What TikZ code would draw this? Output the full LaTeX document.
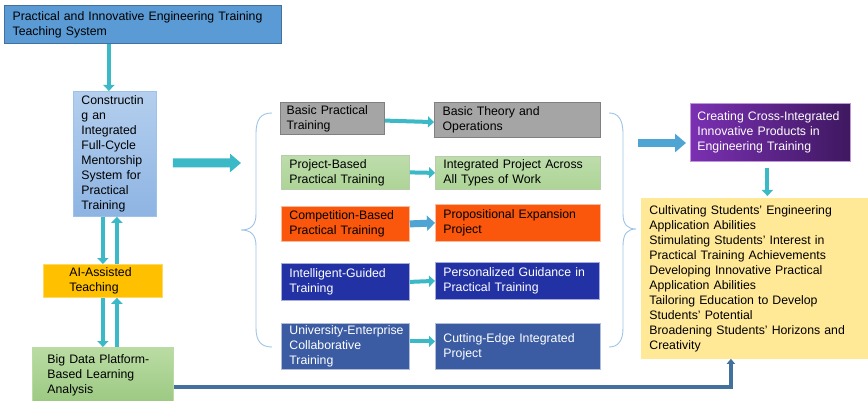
\documentclass[tikz,border=0pt]{standalone}
\usepackage{fontspec}
\setmainfont{Liberation Sans}
\usetikzlibrary{arrows.meta}

\definecolor{arrowteal}{HTML}{3CB9C6}
\definecolor{arrowblue}{HTML}{4EA4D2}
\definecolor{linkblue}{HTML}{41719C}
\definecolor{bracecol}{HTML}{9DC3E6}
\definecolor{sysblue}{HTML}{5B9BD5}
\definecolor{sysedge}{HTML}{41719C}
\definecolor{mentortop}{HTML}{B4CFEE}
\definecolor{mentorbot}{HTML}{8EB4E3}
\definecolor{aigold}{HTML}{FFC000}
\definecolor{datatop}{HTML}{BADCA4}
\definecolor{databot}{HTML}{9CC982}
\definecolor{basegray}{HTML}{A5A5A5}
\definecolor{projgreen}{HTML}{ADD496}
\definecolor{compred}{HTML}{FA560C}
\definecolor{guideblue}{HTML}{2231A3}
\definecolor{coopblue}{HTML}{3B5CA3}
\definecolor{purpleL}{HTML}{7B30B2}
\definecolor{purpleR}{HTML}{3E1860}
\definecolor{outyellow}{HTML}{FFE997}

% box text: no breaks at hyphens
\newcommand\boxfont{\fontsize{12.3}{15}\selectfont\hyphenpenalty=10000\relax\exhyphenpenalty=10000\relax}

\begin{document}
\begin{tikzpicture}[x=1pt,y=-1pt,
  blk/.style={draw, line width=0.8pt, anchor=north west, align=left,
    inner xsep=8pt, inner ysep=1pt, font=\boxfont},
  tarrow/.style={draw=arrowteal, line width=4pt, -{Triangle[length=6pt,width=11pt]}},
  bigarrow/.style={line width=9pt, -{Triangle[length=11pt,width=18pt]}},
  linkarrow/.style={draw=linkblue, line width=3.5pt, -{Triangle[length=5pt,width=8pt]}}]

\useasboundingbox (0,0) rectangle (868,401);

% left column
\node[blk, draw=sysedge, line width=1.2pt, fill=sysblue, text width=261pt, minimum height=38pt] (sys) at (4,5)
  {Practical and Innovative Engineering Training\\Teaching System};
\node[blk, draw=bracecol, top color=mentortop, bottom color=mentorbot, text width=67pt, minimum height=125pt] (mentor) at (73,91)
  {Constructin\\g an\\Integrated\\Full-Cycle\\Mentorship\\System for\\Practical\\Training};
\node[blk, draw=aigold!60, fill=aigold, inner xsep=26pt, text width=67pt, minimum height=33pt] (ai) at (43,264)
  {AI-Assisted\\Teaching};
\node[blk, draw=datatop, top color=datatop, bottom color=databot, inner xsep=15pt, text width=111pt, minimum height=55pt] (bigdata) at (32,347)
  {Big Data Platform-\\Based Learning\\Analysis};

% training forms
\node[blk, draw=gray, line width=1.2pt, fill=basegray, inner xsep=6pt, text width=92pt, minimum height=32pt] (basic) at (280,102)
  {Basic Practical\\Training};
\node[blk, draw=projgreen!80!black!60, top color=projgreen!80, bottom color=projgreen, text width=112pt, minimum height=34pt] (project) at (281,155)
  {Project-Based\\Practical Training};
\node[blk, draw=compred!40, fill=compred, text width=112pt, minimum height=35pt] (contest) at (281,206)
  {Competition-Based\\Practical Training};
\node[blk, draw=guideblue!40, fill=guideblue, text=white, text width=112pt, minimum height=37pt] (guided) at (281,263)
  {Intelligent-Guided\\Training};
\node[blk, draw=coopblue!40, fill=coopblue, text=white, text width=112pt, minimum height=46pt] (coop) at (281,323)
  {University-Enterprise\\Collaborative\\Training};

% training contents
\node[blk, draw=gray, line width=1.2pt, fill=basegray, text width=150pt, minimum height=35pt] (theory) at (434,102)
  {Basic Theory and\\Operations};
\node[blk, draw=projgreen!80!black!60, top color=projgreen!80, bottom color=projgreen, text width=149pt, minimum height=33pt] (allwork) at (435,156)
  {Integrated Project Across\\All Types of Work};
\node[blk, draw=compred!40, fill=compred, text width=149pt, minimum height=37pt] (expand) at (435,204)
  {Propositional Expansion\\Project};
\node[blk, draw=guideblue!40, fill=guideblue, text=white, text width=148pt, minimum height=37pt] (personal) at (435,262)
  {Personalized Guidance in\\Practical Training};
\node[blk, draw=coopblue!40, fill=coopblue, text=white, text width=149pt, minimum height=46pt] (frontier) at (435,323)
  {Cutting-Edge Integrated\\Project};

% right column
\node[blk, draw=purpleL!50, left color=purpleL, right color=purpleR, text=white, inner xsep=7pt, text width=146pt, minimum height=58pt] (product) at (690,103)
  {Creating Cross-Integrated\\Innovative Products in\\Engineering Training};
\node[blk, draw=outyellow, fill=outyellow, text width=211pt, minimum height=160pt] (goals) at (641,198)
  {Cultivating Students' Engineering\\Application Abilities\\Stimulating Students' Interest in\\Practical Training Achievements\\Developing Innovative Practical\\Application Abilities\\Tailoring Education to Develop\\Students' Potential\\Broadening Students' Horizons and\\Creativity};

% braces
\draw[bracecol, line width=0.9pt] (272,113) .. controls (261,113) and (256,119) .. (256,134) -- (256,214)
  .. controls (256,225) and (251,230) .. (241,230) .. controls (251,230) and (256,235) .. (256,246)
  -- (256,328) .. controls (256,341) and (261,347) .. (272,347);
\draw[bracecol, line width=0.9pt] (609,113) .. controls (618,113) and (623,119) .. (623,134) -- (623,214)
  .. controls (623,225) and (628,229) .. (636,229) .. controls (628,229) and (623,233) .. (623,246)
  -- (623,328) .. controls (623,341) and (618,347) .. (609,347);
\coordinate (bracein) at (241,163);
\coordinate (braceout) at (638,143);

% connectors
\draw[tarrow] ([xshift=-6pt]mentor.north |- sys.south) -- ([xshift=-6pt]mentor.north);
\draw[tarrow] (mentor.south -| ai.north) -- (ai.north);
\draw[tarrow] ([xshift=14pt]ai.north) -- ([xshift=14pt]ai.north |- mentor.south);
\draw[tarrow] (ai.south) -- (bigdata.north);
\draw[tarrow] ([xshift=14pt]bigdata.north) -- ([xshift=14pt]ai.south);
\draw[bigarrow, draw=arrowteal] ([xshift=16pt,yshift=-9pt]mentor.east) -- (bracein);

\draw[tarrow] ([yshift=-2pt]basic.east) -- ([yshift=-2pt]theory.west);
\draw[tarrow] (project.east) -- (allwork.west);
\draw[tarrow, draw=arrowblue, line width=7pt, -{Triangle[length=8pt,width=15pt]}] (contest.east) -- (expand.west);
\draw[tarrow] (guided.east) -- (personal.west);
\draw[tarrow] ([yshift=5pt]coop.east) -- ([yshift=5pt]frontier.west);

\draw[bigarrow, draw=arrowblue, line width=8pt, shorten >=4pt] (braceout) -- (braceout -| product.west);
\draw[tarrow, shorten >=2pt] ([xshift=-3pt,yshift=-6pt]product.south) -- ([xshift=-3pt]product.south |- goals.north);
\draw[linkarrow] ([yshift=-12pt]bigdata.east) -| ([xshift=-24pt]goals.south);

\end{tikzpicture}
\end{document}
